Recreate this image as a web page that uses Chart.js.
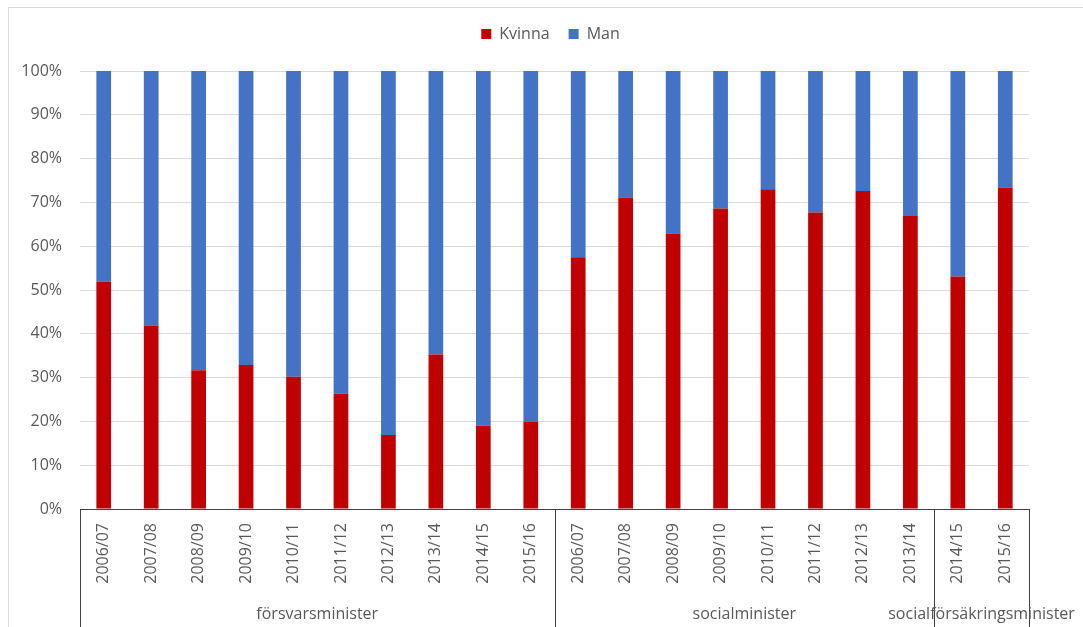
<!DOCTYPE html>
<html>
<head>
<meta charset="utf-8">
<script src="https://cdn.jsdelivr.net/npm/chart.js@4/dist/chart.umd.min.js"></script>
<style>
  html, body { margin: 0; padding: 0; background: #fff; }
  #wrap { position: relative; width: 1083px; height: 627px; }
</style>
</head>
<body>
<div id="wrap"><canvas id="c" width="1083" height="627"></canvas></div>
<script>
// ---- data ----
const categories = [
  '2006/07','2007/08','2008/09','2009/10','2010/11','2011/12','2012/13','2013/14','2014/15','2015/16',
  '2006/07','2007/08','2008/09','2009/10','2010/11','2011/12','2012/13','2013/14',
  '2014/15','2015/16'
];
const groupNames = ['försvarsminister', 'socialminister', 'socialförsäkringsminister'];
const groupSizes = [10, 8, 2];
const kvinna = [51.9, 41.9, 31.7, 32.9, 30.2, 26.3, 16.9, 35.3, 19.0, 20.0,
                57.5, 71.1, 62.9, 68.6, 73.0, 67.7, 72.6, 66.9,
                53.1, 73.4];
const man    = [48.1, 58.1, 68.3, 67.1, 69.8, 73.7, 83.1, 64.7, 81.0, 80.0,
                42.5, 28.9, 37.1, 31.4, 27.0, 32.3, 27.4, 33.1,
                46.9, 26.6];
const seriesNames = ['Kvinna', 'Man'];
const yTicks = [0, 10, 20, 30, 40, 50, 60, 70, 80, 90, 100];

const FONT = "'Open Sans', 'Liberation Sans', sans-serif";
const TXT = '#595959';

const legendHeightPlugin = {
  id: 'legendHeight',
  beforeLayout(chart) {
    const lg = chart.legend;
    if (lg && !lg._patched) {
      const orig = lg.fit.bind(lg);
      lg.fit = function () { orig(); this.height = 64; };
      lg._patched = true;
    }
  },
  afterLayout(chart) {
    const lg = chart.legend;
    if (lg) {
      // centre the legend over the whole chart frame rather than the padded box
      lg.left += 36;
      lg.right += 36;
    }
  }
};

const framePlugin = {
  id: 'frame',
  afterDraw(chart) {
    const ctx = chart.ctx;
    const xs = chart.scales.x;
    ctx.save();
    // outer border
    ctx.strokeStyle = '#D9D9D9';
    ctx.lineWidth = 1;
    ctx.beginPath();
    ctx.moveTo(8.5, chart.height);
    ctx.lineTo(8.5, 7.5);
    ctx.lineTo(chart.width, 7.5);
    ctx.stroke();

    // group separators and labels
    const n = categories.length;
    const step = (xs.getPixelForValue(n - 1) - xs.getPixelForValue(0)) / (n - 1);
    const edge = i => xs.getPixelForValue(0) - step / 2 + i * step;
    ctx.strokeStyle = '#404040';
    ctx.lineWidth = 1;
    let start = 0;
    const bounds = [0];
    groupSizes.forEach(s => { start += s; bounds.push(start); });
    bounds.forEach(b => {
      const x = Math.round(edge(b)) + 0.5;
      ctx.beginPath();
      ctx.moveTo(x, xs.top);
      ctx.lineTo(x, chart.height);
      ctx.stroke();
    });
    ctx.fillStyle = TXT;
    ctx.font = '16px ' + FONT;
    ctx.textAlign = 'center';
    ctx.textBaseline = 'middle';
    groupNames.forEach((g, gi) => {
      const cx = (edge(bounds[gi]) + edge(bounds[gi + 1])) / 2;
      ctx.fillText(g, cx, 614);
    });
    ctx.restore();
  }
};

new Chart(document.getElementById('c'), {
  type: 'bar',
  data: {
    labels: categories,
    datasets: [
      { label: seriesNames[0], data: kvinna, backgroundColor: '#C00000', borderWidth: 0 },
      { label: seriesNames[1], data: man, backgroundColor: '#4472C4', borderWidth: 0 }
    ]
  },
  options: {
    responsive: false,
    animation: false,
    devicePixelRatio: 1,
    categoryPercentage: 1,
    barPercentage: 0.31,
    layout: { padding: { top: 7, right: 54, left: 0, bottom: 0 } },
    plugins: {
      legend: {
        position: 'top',
        labels: {
          boxWidth: 10, boxHeight: 10, padding: 19,
          color: TXT, font: { family: FONT, size: 16 }
        }
      },
      tooltip: { enabled: false }
    },
    scales: {
      x: {
        stacked: true,
        grid: { display: false, drawTicks: false },
        border: { display: true, color: '#404040', width: 1 },
        ticks: {
          autoSkip: false, maxRotation: 90, minRotation: 90, padding: 14,
          color: TXT, font: { family: FONT, size: 16 }
        },
        afterFit(scale) { scale.height = 118; }
      },
      y: {
        stacked: true,
        min: 0, max: 100,
        afterBuildTicks(scale) { scale.ticks = yTicks.map(v => ({ value: v })); },
        grid: { color: '#D9D9D9', lineWidth: 1, drawTicks: false },
        border: { display: false },
        ticks: {
          padding: 18, color: TXT, font: { family: FONT, size: 16 },
          callback: v => v + '%'
        },
        afterFit(scale) { scale.width = 80; }
      }
    }
  },
  plugins: [legendHeightPlugin, framePlugin]
});
</script>
</body>
</html>
